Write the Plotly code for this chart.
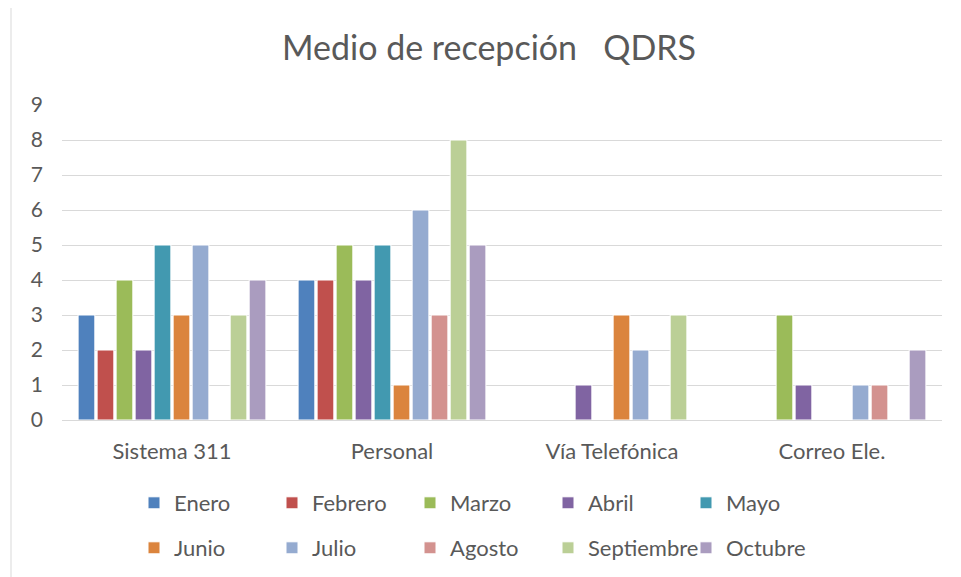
import plotly.graph_objects as go

categories = ["Sistema 311", "Personal", "Vía Telefónica", "Correo Ele."]
months = ["Enero", "Febrero", "Marzo", "Abril", "Mayo",
          "Junio", "Julio", "Agosto", "Septiembre", "Octubre"]

enero = [3, 4, None, None]
febrero = [2, 4, None, None]
marzo = [4, 5, None, 3]
abril = [2, 4, 1, 1]
mayo = [5, 5, None, None]
junio = [3, 1, 3, None]
julio = [5, 6, 2, 1]
agosto = [None, 3, None, 1]
septiembre = [3, 8, 3, None]
octubre = [4, 5, None, 2]

series = [enero, febrero, marzo, abril, mayo, junio, julio, agosto, septiembre, octubre]
colors = ["#4F81BD", "#C0504D", "#9BBB59", "#8064A2", "#4299B0",
          "#DB843D", "#95ABD0", "#D3928F", "#BBCF96", "#AA9CBF"]

font_family = "Lato, 'Open Sans', sans-serif"
text_color = "#595959"

# page has an 8px body margin; compensate
OFF = 8
L, T, PW, PH = 62 - OFF, 105 - OFF, 880, 315

fig = go.Figure()
for i, (name, vals, col) in enumerate(zip(months, series, colors)):
    fig.add_trace(go.Bar(
        name=name, x=categories, y=vals,
        marker=dict(color=col, line=dict(color="white", width=1)),
        legend="legend" if i < 5 else "legend2",
    ))

legend_common = dict(
    orientation="h", xanchor="left", yanchor="middle",
    font=dict(family=font_family, size=22, color=text_color),
    entrywidth=93, entrywidthmode="pixels", itemwidth=30,
    bgcolor="rgba(0,0,0,0)", traceorder="normal",
)

fig.update_layout(
    width=961, height=577,
    margin=dict(l=L, r=961 - L - PW, t=T, b=577 - T - PH, autoexpand=False),
    paper_bgcolor="white", plot_bgcolor="white",
    title=dict(text="Medio de recepción\u00a0\u00a0\u00a0QDRS",
               x=(489 - OFF) / 961, xanchor="center", y=1 - (48 - OFF) / 577, yanchor="middle",
               font=dict(family=font_family, size=34, color=text_color)),
    barmode="group", bargap=0.136, bargroupgap=0.12,
    legend=dict(x=(134 - 62) / 880, y=(420 - 503) / 315, **legend_common),
    legend2=dict(x=(134 - 62) / 880, y=(420 - 548) / 315, **legend_common),
    showlegend=True,
    xaxis=dict(showline=True, linecolor="#D9D9D9", linewidth=1,
               ticks="", tickfont=dict(family=font_family, size=22, color=text_color),
               ticklabelstandoff=12),
    yaxis=dict(range=[0, 9], dtick=1, showgrid=True, gridcolor="#D9D9D9", gridwidth=1,
               zeroline=True, zerolinecolor="#D9D9D9", zerolinewidth=1,
               tickfont=dict(family=font_family, size=21, color=text_color),
               ticklabelstandoff=18),
    shapes=[dict(type="rect", xref="paper", yref="paper",
                 x0=(11 - 62) / 880, x1=(966 - 62) / 880,
                 y0=(420 - 582) / 315, y1=(420 - 6) / 315,
                 line=dict(color="#D9D9D9", width=1), fillcolor="rgba(0,0,0,0)",
                 layer="below")],
)

fig.write_html("out.html")
